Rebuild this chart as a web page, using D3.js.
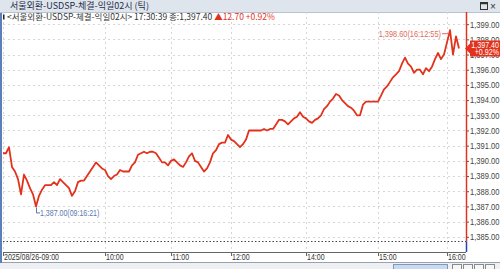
<!DOCTYPE html>
<html>
<head>
<meta charset="utf-8">
<script src="https://cdn.jsdelivr.net/npm/d3@7"></script>
<style>
  html, body { margin: 0; padding: 0; background: #fff; }
  svg { display: block; }
  text { font-family: 'Liberation Sans', 'Noto Sans CJK KR', sans-serif; }
  .kr { font-family: 'Noto Sans CJK KR', 'Liberation Sans', sans-serif; }
</style>
</head>
<body>
<svg id="chart" width="500" height="269"></svg>
<script>
// USD/KRW ticks, 2025/08/26 (one sample every ~3px)
const prices = [
  1390.5, 1390.5, 1390.9, 1389.6, 1389.3, 1388.8, 1387.8, 1389.1, 1388.7, 1388.2,
  1387.8, 1387.0, 1387.7, 1388.1, 1388.4, 1388.4, 1388.4, 1388.6, 1388.4, 1388.8,
  1388.6, 1388.4, 1388.2, 1387.7, 1388.0, 1388.6, 1388.7, 1388.7, 1389.0, 1389.3,
  1389.6, 1389.9, 1389.7, 1389.5, 1389.4, 1389.0, 1388.8, 1389.0, 1389.1, 1389.4,
  1389.3, 1389.3, 1389.3, 1389.7, 1389.9, 1390.4, 1390.5, 1390.6, 1390.5, 1390.6,
  1390.6, 1390.5, 1390.2, 1389.9, 1389.9, 1389.7, 1390.0, 1390.1, 1389.9, 1389.7,
  1389.6, 1389.9, 1390.3, 1390.5, 1390.0, 1389.9, 1389.6, 1389.3, 1389.5, 1389.9,
  1390.5, 1390.7, 1391.1, 1391.2, 1391.2, 1391.7, 1391.4, 1391.3, 1391.1, 1390.9,
  1391.1, 1391.4, 1392.0, 1392.0, 1392.0, 1392.0, 1392.0, 1392.1, 1392.0, 1392.1,
  1392.1, 1392.4, 1392.7, 1392.7, 1392.6, 1392.4, 1392.6, 1392.8, 1392.9, 1393.2,
  1392.9, 1392.8, 1392.6, 1392.5, 1392.7, 1392.8, 1393.0, 1393.4, 1393.6, 1393.9,
  1394.1, 1394.4, 1394.3, 1394.0, 1393.8, 1393.6, 1393.5, 1393.3, 1393.0, 1393.0,
  1393.7, 1393.9, 1393.9, 1393.9, 1393.9, 1393.9, 1394.3, 1394.7, 1394.9, 1395.2,
  1395.5, 1395.7, 1395.9, 1396.4, 1396.8, 1396.4, 1396.2, 1395.8, 1396.0, 1396.0,
  1395.7, 1396.1, 1395.9, 1396.2, 1396.7, 1397.1, 1396.7, 1397.0, 1397.8, 1398.6,
  1397.0, 1398.2, 1397.4,
];

const prevClose = 1384.7;
const change = 12.70;
const changePct = 0.92;

const timeLabels = ['2025/08/26-09:00', '10:00', '11:00', '12:00', '14:00', '15:00', '16:00'];
const timeTickIdx = [0, 34, 56, 76, 101, 125, 148];

const yTicks = d3.range(1385, 1400);

const highIdx = prices.indexOf(d3.max(prices));
const lowIdx = prices.indexOf(d3.min(prices));
const highTime = '16:12:55';
const lowTime = '09:16:21';
const lastTime = '17:30:39';

const RED = '#e3321c';
const BLUE = '#2446a8';
const GRID = '#d6d6d6';

const svg = d3.select('#chart');
const plot = { left: 3, right: 466, top: 12, bottom: 252 };

// the terminal font is narrow: squeeze latin text horizontally around its x
function squeeze(sel, k) {
  sel.each(function () {
    const t = d3.select(this);
    const x0 = +t.attr('x') || 0;
    t.attr('x', 0)
      .attr('transform', `translate(${x0},0) scale(${k},1)`);
  });
}

const x = d3.scaleLinear()
  .domain([0, prices.length - 1])
  .range([3, 459]);

const y = d3.scaleLinear()
  .domain([1384.0, 1399.8])
  .range([plot.bottom, plot.top]);

const fmt = d3.format(',.2f');

// title bar
svg.append('rect')
  .attr('x', 0).attr('y', 0).attr('width', 500).attr('height', 12)
  .attr('fill', '#dfe5ec');
svg.append('line')
  .attr('x1', 0).attr('x2', 500).attr('y1', 12.5).attr('y2', 12.5)
  .attr('stroke', '#b9c3cf');
svg.append('text')
  .attr('class', 'kr')
  .attr('x', 10).attr('y', 8.7)
  .style('font-size', '9px')
  .attr('fill', '#1f2d4a')
  .text('서울외환-USDSP-체결-익일02시 (틱)');
svg.append('rect')
  .attr('x', 480.5).attr('y', 2.5).attr('width', 7).attr('height', 7)
  .attr('fill', 'none').attr('stroke', '#333');
svg.append('line')
  .attr('x1', 480.5).attr('x2', 487.5).attr('y1', 3.5).attr('y2', 3.5)
  .attr('stroke', '#333').attr('stroke-width', 1.5);
svg.append('text')
  .attr('x', 490).attr('y', 10)
  .style('font-size', '10px')
  .attr('fill', '#333')
  .text('×');

// grid
const grid = svg.append('g');
grid.selectAll('line.h')
  .data(yTicks)
  .join('line')
  .attr('class', 'h')
  .attr('x1', plot.left).attr('x2', plot.right)
  .attr('y1', d => Math.round(y(d)) + 0.5)
  .attr('y2', d => Math.round(y(d)) + 0.5)
  .attr('stroke', GRID)
  .attr('stroke-dasharray', '2,3');
grid.selectAll('line.v')
  .data(timeTickIdx)
  .join('line')
  .attr('class', 'v')
  .attr('x1', d => Math.round(x(d)) + 0.5)
  .attr('x2', d => Math.round(x(d)) + 0.5)
  .attr('y1', plot.top).attr('y2', plot.bottom)
  .attr('stroke', GRID)
  .attr('stroke-dasharray', '2,3');

// previous close
svg.append('line')
  .attr('x1', plot.left).attr('x2', plot.right)
  .attr('y1', Math.round(y(prevClose)) + 0.5)
  .attr('y2', Math.round(y(prevClose)) + 0.5)
  .attr('stroke', '#444')
  .attr('stroke-dasharray', '1.5,2');

// header line of quote
const quote = svg.append('text')
  .attr('class', 'kr')
  .attr('x', 7).attr('y', 20.3)
  .style('font-size', '8.5px')
  .attr('fill', '#333');
quote.append('tspan')
  .text(`<서울외환-USDSP-체결-익일02시> ${lastTime} 종:${fmt(prices[prices.length - 1])} `);
quote.append('tspan')
  .attr('fill', RED)
  .text(`▲${change.toFixed(2)} +${changePct.toFixed(2)}%`);
svg.append('rect')
  .attr('x', 3).attr('y', 14.5).attr('width', 1.5).attr('height', 5)
  .attr('fill', '#222');

// price line
svg.append('path')
  .datum(prices)
  .attr('fill', 'none')
  .attr('stroke', RED)
  .attr('stroke-width', 1.8)
  .attr('stroke-linejoin', 'round')
  .attr('d', d3.line().x((d, i) => x(i)).y(d => y(d)));

// right edge: red above previous close, blue below
svg.append('line')
  .attr('x1', plot.right + 0.5).attr('x2', plot.right + 0.5)
  .attr('y1', plot.top).attr('y2', y(prevClose))
  .attr('stroke', RED).attr('stroke-width', 1.5);
svg.append('line')
  .attr('x1', plot.right + 0.5).attr('x2', plot.right + 0.5)
  .attr('y1', y(prevClose)).attr('y2', plot.bottom)
  .attr('stroke', BLUE).attr('stroke-width', 1.5);

// y axis
const yAxis = svg.append('g')
  .attr('transform', `translate(${plot.right + 1},0)`)
  .call(d3.axisRight(y).tickValues(yTicks).tickFormat(fmt).tickSize(2).tickPadding(1));
yAxis.select('.domain').remove();
yAxis.selectAll('line').attr('stroke', '#555');
yAxis.selectAll('text')
  .style('font-size', '9px')
  .style('font-family', "'Liberation Sans', sans-serif")
  .attr('fill', '#444')
  .call(squeeze, 0.84);

// x axis
const xAxis = svg.append('g')
  .attr('transform', `translate(0,${plot.bottom})`)
  .call(d3.axisBottom(x).tickValues(timeTickIdx).tickFormat((d, i) => timeLabels[i]).tickSize(4));
xAxis.select('.domain')
  .attr('d', `M${plot.left},0.5H${plot.right}`)
  .attr('stroke', '#666');
xAxis.selectAll('line').attr('stroke', '#666');
xAxis.selectAll('text')
  .attr('text-anchor', 'start')
  .attr('x', 0.5)
  .attr('y', 2)
  .attr('dy', '0.71em')
  .style('font-size', '9px')
  .style('font-family', "'Liberation Sans', sans-serif")
  .attr('fill', '#333')
  .call(squeeze, 0.78);
svg.append('line')
  .attr('x1', 0).attr('x2', 500).attr('y1', 262.5).attr('y2', 262.5)
  .attr('stroke', '#9aa3ad');

// left border
svg.append('rect')
  .attr('x', 0).attr('y', 13).attr('width', 2).attr('height', 250)
  .attr('fill', '#5b7fb8');

// scrollbar strip
svg.append('rect')
  .attr('x', 0).attr('y', 263).attr('width', 500).attr('height', 6)
  .attr('fill', '#eef0f3');
svg.append('rect')
  .attr('x', 393.5).attr('y', 264.5).attr('width', 54).attr('height', 5)
  .attr('fill', '#c9d9ee').attr('stroke', '#7d98c2');
[452, 463, 474, 485].forEach(bx => {
  svg.append('rect')
    .attr('x', bx + 0.5).attr('y', 264.5).attr('width', 9).attr('height', 5)
    .attr('fill', '#f6f6f6').attr('stroke', '#8a8a8a');
});

// high annotation
const hx = x(highIdx), hy = y(prices[highIdx]);
svg.append('path')
  .attr('d', `M${hx - 2},${hy + 3.5}H442`)
  .attr('fill', 'none')
  .attr('stroke', '#e06a5c');
svg.append('text')
  .attr('x', 441).attr('y', hy + 3.5)
  .attr('dy', '0.35em')
  .attr('text-anchor', 'end')
  .style('font-size', '9px')
  .attr('fill', '#e06a5c')
  .text(`${fmt(prices[highIdx])}(${highTime})`)
  .call(squeeze, 0.82);

// low annotation
const lx = x(lowIdx), ly = y(prices[lowIdx]);
svg.append('path')
  .attr('d', `M${Math.round(lx) + 0.5},${ly + 1}V${ly + 6.5}H${lx + 4}`)
  .attr('fill', 'none')
  .attr('stroke', '#5a77ad');
svg.append('text')
  .attr('x', lx + 4).attr('y', ly + 6.5)
  .attr('dy', '0.35em')
  .style('font-size', '9px')
  .attr('fill', '#5a77ad')
  .text(`${fmt(prices[lowIdx])}(${lowTime})`)
  .call(squeeze, 0.78);

// last price tag
const last = prices[prices.length - 1];
const ty = y(last);
svg.append('path')
  .attr('d', `M${plot.right - 1},${ty}L${plot.right + 4},${ty - 5}V${ty - 8}H500V${ty + 8}H${plot.right + 4}V${ty + 5}Z`)
  .attr('fill', RED);
svg.append('text')
  .attr('x', 499).attr('y', ty - 3.5)
  .attr('dy', '0.35em')
  .attr('text-anchor', 'end')
  .style('font-size', '8.5px')
  .attr('fill', '#fff')
  .text(fmt(last))
  .call(squeeze, 0.84);
svg.append('text')
  .attr('x', 499).attr('y', ty + 4)
  .attr('dy', '0.35em')
  .attr('text-anchor', 'end')
  .style('font-size', '8.5px')
  .attr('fill', '#fff')
  .text(`+${changePct.toFixed(2)}%`)
  .call(squeeze, 0.84);
</script>
</body>
</html>
